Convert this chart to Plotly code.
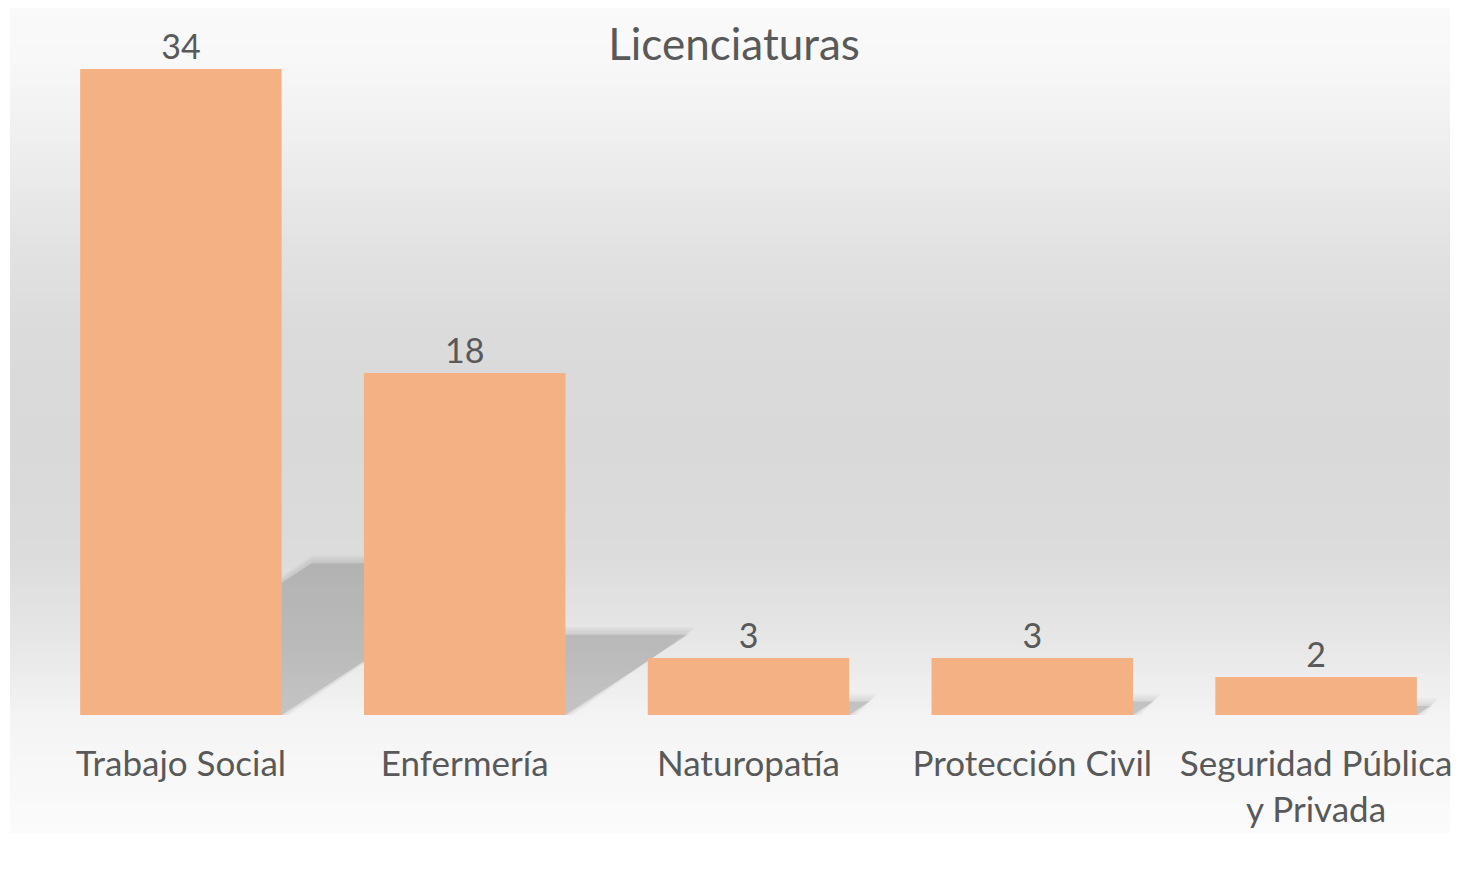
# Licenciaturas bar chart
import numpy as np
from plotly.graph_objects import Figure, Bar

# data
categories = ['Trabajo Social', 'Enfermería', 'Naturopatía', 'Protección Civil', 'Seguridad Pública<br>y Privada']
values = [34, 18, 3, 3, 2]
positions = list(range(len(categories)))

bar_color = '#F4B183'
text_color = '#595959'
font_family = 'Lato, Open Sans, sans-serif'

# page has an 8px body margin on every side, so the figure is shifted by that
OFF = 8
W, H = 1460 - 2 * OFF, 874 - 2 * OFF
ml, mr, mt = 39 - OFF, 0, 0
base_px = 715
plot_h = base_px - OFF
mb = H - mt - plot_h
plot_w = W - ml - mr
cat_px = (1460 - 39) / len(categories)
px_per_unit = 19.0
y_max = plot_h / px_per_unit
x_max = -0.5 + plot_w / cat_px
half = 0.355

fig = Figure()

fig.add_trace(Bar(
    x=positions, y=values,
    marker=dict(color=bar_color, line=dict(width=0)),
    text=[str(v) for v in values],
    textposition='outside',
    textfont=dict(size=34, color=text_color, family=font_family),
    cliponaxis=False,
    hoverinfo='skip',
))

## background gradient (chart area drawn as thin bands), screen pixel rows
shapes = []
stops_y = [0, 60, 150, 250, 330, 450, 560, 650, 720, 780, 833]
stops_c = [250, 248, 238, 226, 219, 217, 220, 232, 244, 248, 251]
edges = np.linspace(OFF, 833, 120)
x0 = (10 - OFF - ml) / plot_w
x1 = 1.0
for a, b in zip(edges[:-1], edges[1:]):
    g = int(round(np.interp((a + b) / 2, stops_y, stops_c)))
    shapes.append(dict(
        type='rect', xref='paper', yref='paper', layer='below',
        x0=x0, x1=x1,
        y0=(base_px - b - 0.5) / plot_h, y1=(base_px - a + 0.5) / plot_h,
        fillcolor=f'rgb({g},{g},{g})', line=dict(width=0),
    ))

## perspective shadows behind bars (soft edge + core)
for p, v in zip(positions, values):
    s = 0.024 * v
    k = 0.235 * v
    for grow, alpha in [(8, 0.022), (6, 0.022), (4, 0.022), (2, 0.022), (0, 0.1)]:
        gx = grow / cat_px
        gy = grow / px_per_unit
        path = (f'M {p - half},0 L {p + half + gx},0 '
                f'L {p + half + s + gx},{k + gy} L {p - half + s},{k + gy} Z')
        shapes.append(dict(
            type='path', xref='x', yref='y', layer='below', path=path,
            fillcolor=f'rgba(0,0,0,{alpha})', line=dict(width=0),
        ))

fig.update_layout(dict(
    title=dict(
        text='Licenciaturas',
        font=dict(size=44, color=text_color, family=font_family),
        x=(734 - OFF) / W, xanchor='center',
        y=1 - (45 - OFF) / H, yanchor='middle',
    ),
    xaxis=dict(
        tickvals=positions, ticktext=categories,
        range=[-0.5, x_max],
        showgrid=False, zeroline=False, showline=False,
        ticks='outside', ticklen=18, tickcolor='rgba(0,0,0,0)',
        ticklabeloverflow='allow',
        tickfont=dict(size=35, color=text_color, family=font_family),
    ),
    yaxis=dict(
        range=[0, y_max],
        visible=False, showgrid=False, zeroline=False,
    ),
    bargap=0.29,
    shapes=shapes,
    showlegend=False,
    paper_bgcolor='white',
    plot_bgcolor='rgba(0,0,0,0)',
    margin=dict(l=ml, r=mr, t=mt, b=mb),
    width=W, height=H,
))

fig.write_html('out.html')
